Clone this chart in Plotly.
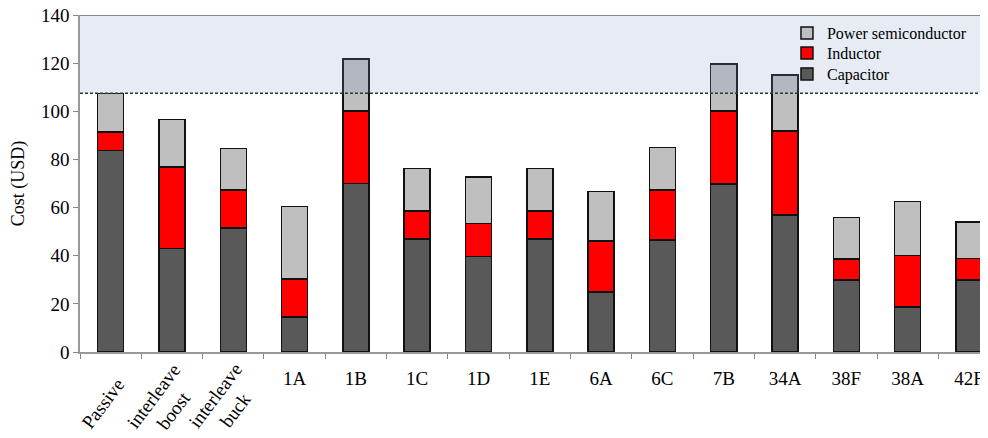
import plotly.graph_objects as go

categories = ["Passive", "interleave boost", "interleave buck", "1A", "1B", "1C", "1D",
              "1E", "6A", "6C", "7B", "34A", "38F", "38A", "42F"]
rotated_labels = ["Passive", "interleave boost", "interleave buck"]
capacitor = [83.8, 43.1, 51.6, 14.5, 69.9, 46.9, 39.6, 46.9, 24.9, 46.5, 69.8, 57.0, 30.0, 18.6, 30.0]
inductor = [7.7, 33.8, 15.7, 15.8, 30.2, 11.7, 13.7, 11.7, 21.2, 20.7, 30.3, 34.9, 8.6, 21.5, 8.9]
power_semiconductor = [15.9, 19.6, 17.2, 30.1, 21.6, 17.7, 19.3, 17.7, 20.5, 17.7, 19.5, 23.2, 17.2, 22.5, 15.1]
threshold = 107.5
y_ticks = [0, 20, 40, 60, 80, 100, 120, 140]

FONT = "Liberation Serif, Times New Roman, serif"
line = dict(color="#111111", width=1.5)

fig = go.Figure()
fig.add_trace(go.Bar(x=categories, y=capacitor, name="Capacitor", legend="legend3",
                     marker=dict(color="#595959", line=line)))
fig.add_trace(go.Bar(x=categories, y=inductor, name="Inductor", legend="legend2",
                     marker=dict(color="#ff0000", line=line)))
fig.add_trace(go.Bar(x=categories, y=power_semiconductor, name="Power semiconductor",
                     legend="legend", marker=dict(color="#bfbfbf", line=line)))

ticktext = ["" if c in rotated_labels else c for c in categories]

leg_common = dict(x=0.7786, xanchor="left", yanchor="middle", bgcolor="rgba(0,0,0,0)",
                  font=dict(family=FONT, size=16, color="black"), itemwidth=30)

fig.update_layout(
    width=980, height=430,
    margin=dict(l=72, r=0, t=7, b=86, autoexpand=False),
    barmode="stack", bargap=0.575,
    plot_bgcolor="white", paper_bgcolor="white",
    font=dict(family=FONT, color="black", size=19),
    showlegend=True,
    legend=dict(y=0.9466, **leg_common),
    legend2=dict(y=0.887, **leg_common),
    legend3=dict(y=0.825, **leg_common),
    xaxis=dict(type="category", range=[-0.5, 14.31], tickmode="array",
               tickvals=categories, ticktext=ticktext, tickangle=0,
               tickson="boundaries", ticks="outside", ticklen=5, tickcolor="#888888",
               ticklabelstandoff=8, ticklabeloverflow="allow", automargin=False,
               showline=True, linecolor="#999999", linewidth=1.5,
               showgrid=False, tickfont=dict(family=FONT, size=19, color="black")),
    yaxis=dict(range=[0, 140], tickmode="array", tickvals=y_ticks,
               ticks="outside", ticklen=5, tickcolor="#888888",
               ticklabeloverflow="allow", automargin=False,
               showline=True, linecolor="#999999", linewidth=1.5,
               showgrid=False, zeroline=False,
               tickfont=dict(family=FONT, size=19, color="black"),
               title=dict(text="Cost (USD)", standoff=12,
                          font=dict(family=FONT, size=18, color="black"))),
)

# shaded region above threshold (drawn over bars, translucent)
fig.add_shape(type="rect", xref="paper", yref="y", x0=0, x1=1, y0=threshold, y1=140,
              fillcolor="rgba(135,155,200,0.2)", line=dict(width=0), layer="above")
fig.add_shape(type="line", xref="paper", yref="y", x0=0, x1=1, y0=threshold, y1=threshold,
              line=dict(color="#333333", width=1.5, dash="3px,2px"), layer="above")
fig.add_shape(type="line", xref="paper", yref="y", x0=0, x1=1, y0=140, y1=140,
              line=dict(color="#666666", width=1.5), layer="above")

for c in rotated_labels:
    fig.add_annotation(x=c, y=0, xref="x", yref="y", text=c.replace(" ", "<br>"),
                       textangle=-53, showarrow=False, xanchor="center", yanchor="middle",
                       xshift=-8, yshift=-51,
                       font=dict(family=FONT, size=19, color="black"))

fig.write_html("out.html")
